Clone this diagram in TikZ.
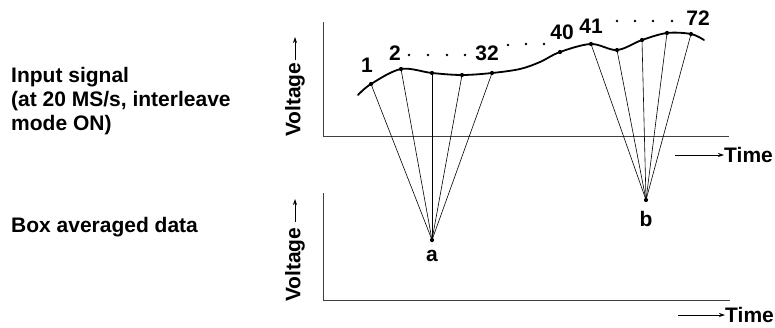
\documentclass[tikz,border=0pt]{standalone}
\usepackage{fontspec}
\setmainfont{Liberation Sans}
\usetikzlibrary{arrows.meta}
\begin{document}
\begin{tikzpicture}[x=1pt,y=-1pt,
  lbl/.style={font=\bfseries\fontsize{21}{24}\selectfont, inner sep=0pt},
  axis/.style={line width=1pt, draw=black!75},
  ray/.style={line width=0.6pt},
  pt/.style={circle, fill=black, inner sep=0pt, minimum size=4.2pt},
  dotsep/.style={circle, fill=black, inner sep=0pt, minimum size=2.8pt},
  sarrow/.style={line width=0.8pt, -{Stealth[length=6pt,width=4pt]}}]
\useasboundingbox (0,0) rectangle (775,327);

% left texts
\node[lbl, anchor=west, align=left] (in) at (11,101) {Input signal\\(at 20 MS/s, interleave\\mode ON)};
\node[lbl, anchor=west] (box) at (11,227) {Box averaged data};

% axes
\coordinate (t0) at (323,22);
\coordinate (to) at (323,136);
\coordinate (tx) at (729,136);
\draw[axis] (t0) -- (to) -- (tx);
\coordinate (b0) at (323,193);
\coordinate (bo) at (323,300);
\coordinate (bx) at (730,300);
\draw[axis] (b0) -- (bo) -- (bx);

% voltage labels
\node[lbl, rotate=90, anchor=west] (v1) at (295,137) {Voltage};
\coordinate (v1a) at (295,60);
\coordinate (v1b) at (295,37);
\draw[sarrow] (v1a) -- (v1b);
\node[lbl, rotate=90, anchor=west] (v2) at (295,302) {Voltage};
\coordinate (v2a) at (295,222);
\coordinate (v2b) at (295,199);
\draw[sarrow] (v2a) -- (v2b);

% time labels
\node[lbl, anchor=west] (time1) at (724,155) {Time};
\coordinate (ta1) at (675,155);
\draw[sarrow] (ta1) -- (time1.west);
\node[lbl, anchor=west] (time2) at (725,315) {Time};
\coordinate (ta2) at (678,315);
\draw[sarrow] (ta2) -- (time2.west);

% signal curve
\draw[line width=1.8pt, line cap=round] plot[smooth, tension=0.55] coordinates {
 (358,95) (371,84) (401,69) (432,73) (462,75) (492,73) (520,69) (540,62) (560,52)
 (591,44) (617,50) (642,40) (667,33) (691,34) (704,40)};

% sample points
\node[pt] (p1) at (371,84) {};
\node[pt] (p2) at (401,69) {};
\node[pt] (p3) at (432,73) {};
\node[pt] (p4) at (462,75) {};
\node[pt] (p5) at (492,73) {};
\node[pt] (p40) at (560,52) {};
\node[pt] (q1) at (591,44) {};
\node[pt] (q2) at (617,50) {};
\node[pt] (q3) at (642,40) {};
\node[pt] (q4) at (667,33) {};
\node[pt] (q5) at (691,34) {};

% averaged points
\node[pt] (a) at (432,240) {};
\node[pt] (b) at (646,200) {};
\node[lbl] (la) at (432,256) {a};
\node[lbl] (lb) at (646,219) {b};

\foreach \p in {p1,p2,p3,p4,p5} \draw[ray] (\p.center) -- (a.center);
\foreach \p in {q1,q2,q3,q4,q5} \draw[ray] (\p.center) -- (b.center);

% numbers
\node[lbl] (n1) at (367,65) {1};
\node[lbl] (n2) at (395,53) {2};
\node[lbl] (n32) at (487,53) {32};
\node[lbl] (n40) at (562,32) {40};
\node[lbl] (n41) at (591,26) {41};
\node[lbl] (n72) at (698,18) {72};

% separating dots
\foreach \x in {409,428,447,465} \node[dotsep] at (\x,55) {};
\foreach \x/\y in {508/45,526/44,544/44} \node[dotsep] at (\x,\y) {};
\foreach \x in {617,635,653,672} \node[dotsep] at (\x,21) {};
\end{tikzpicture}
\end{document}
